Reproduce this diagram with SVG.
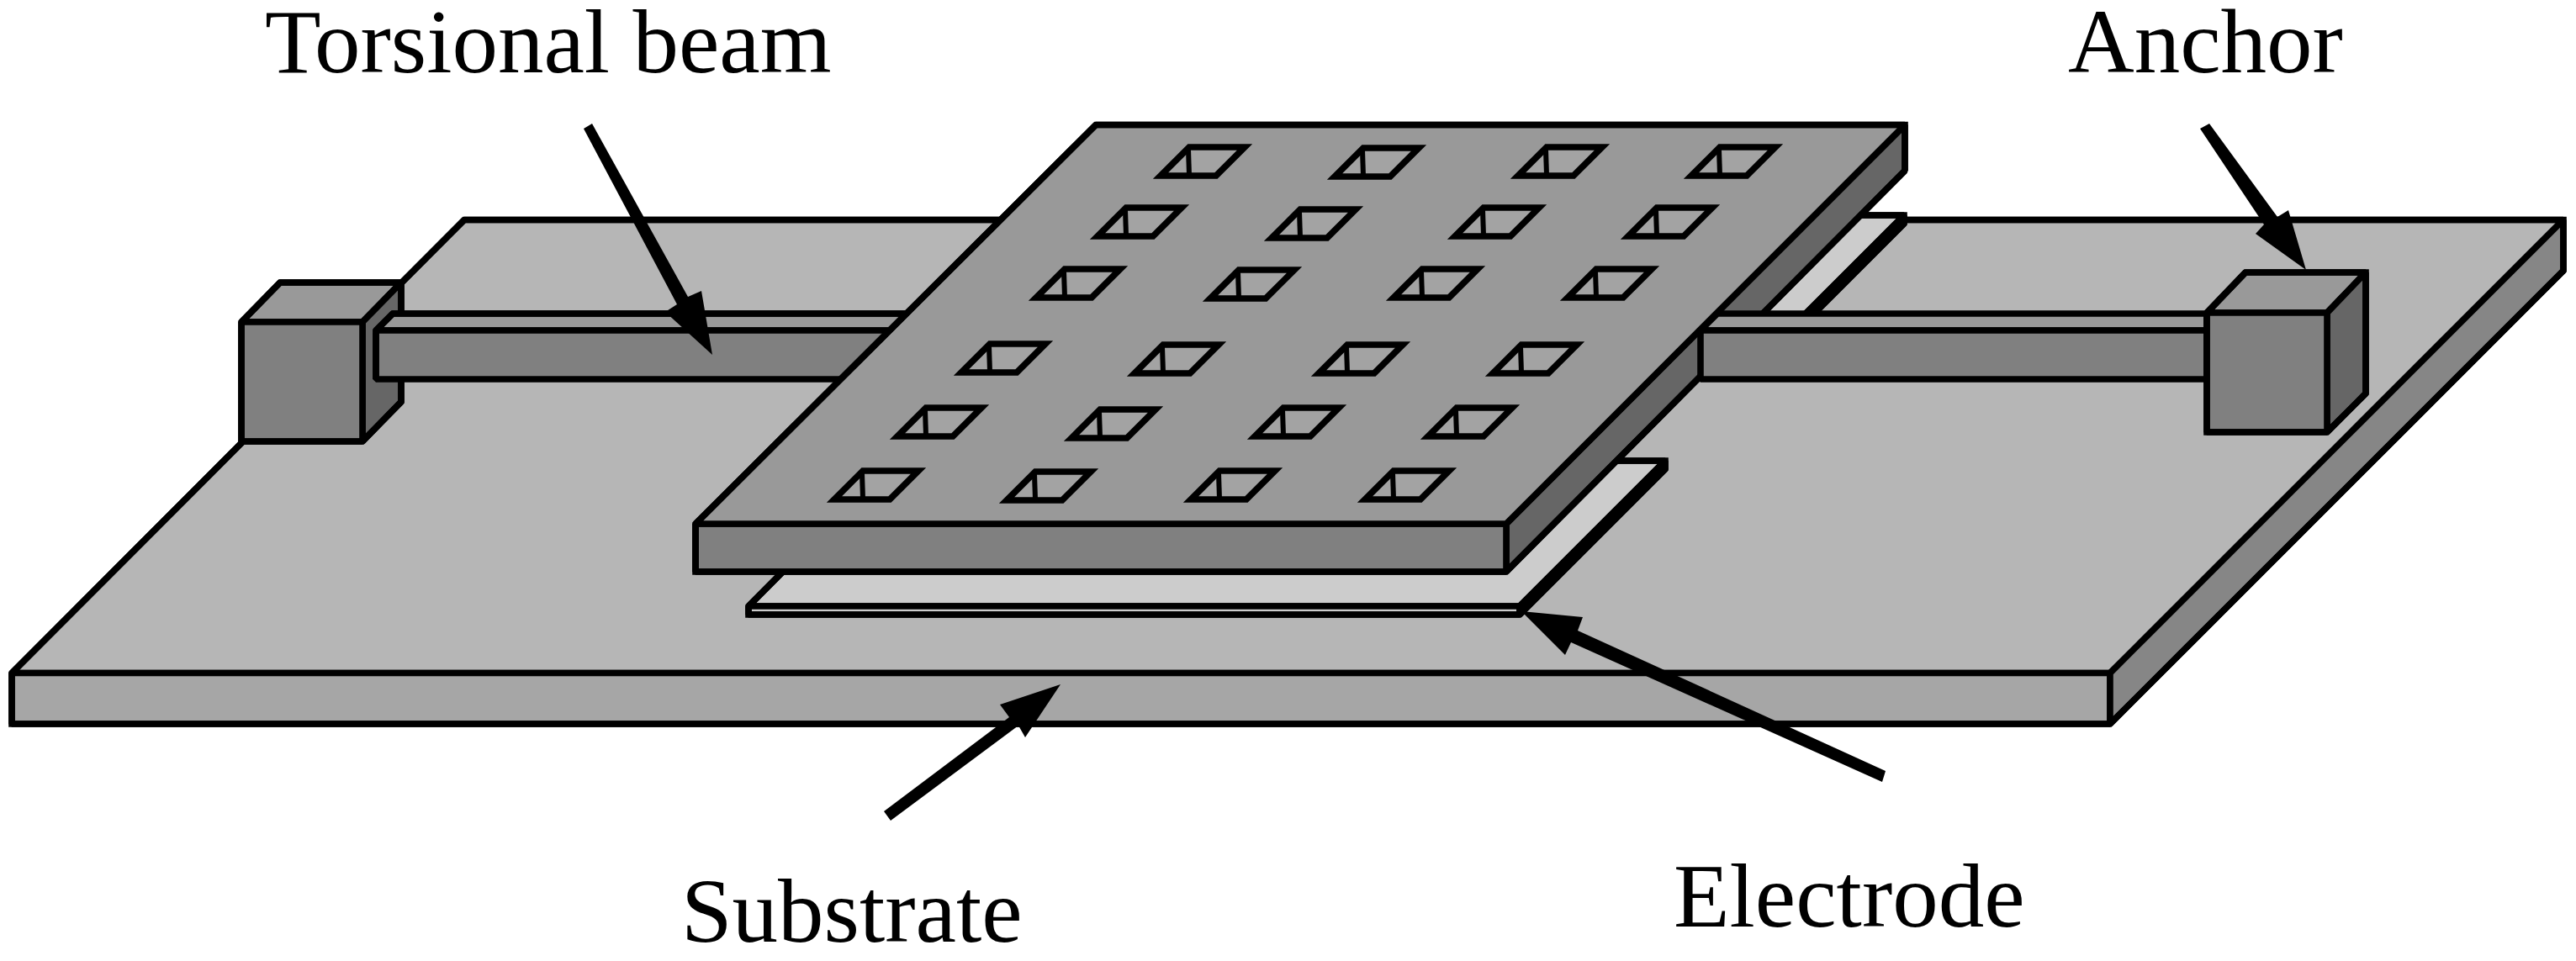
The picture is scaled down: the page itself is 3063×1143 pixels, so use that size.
<svg xmlns="http://www.w3.org/2000/svg" xmlns:xlink="http://www.w3.org/1999/xlink" width="3063" height="1143" viewBox="0 0 3063 1143">
<style>
.e{stroke:#000;stroke-width:7.6;stroke-linejoin:bevel}
.o{fill:none;stroke:#000;stroke-width:7.6;stroke-linejoin:miter}
.top{fill:#999}.front{fill:#808080}.side{fill:#666}
.hole{fill:#a3a3a3;stroke:#000;stroke-width:7.6}
.rib{fill:none;stroke:#000;stroke-width:6}
.el{fill:#ccc}
.lbl{font-family:"Liberation Serif","Times New Roman",serif;font-size:109px;fill:#000}
.arrow{fill:#000}
</style>
<defs>
<g id="h"><path class="hole" d="M43,3H109L75,37H9Z"/><path class="rib" d="M42,6L43,36"/></g>
</defs>
<rect width="3063" height="1143" fill="#fff"/>
<g id="substrate">
<path class="e" fill="#b6b6b6" d="M14,800.500L552,261.500H3048L2509,800.500Z"/>
<path class="e" fill="#a6a6a6" d="M14,800.500H2509V861H14Z"/>
<path class="e" fill="#868686" d="M2509,800.500L3048,261.500V322L2509,861Z"/>
<path class="o" d="M14,861V800.500L552,261.500H3048V322L2509,861Z"/>
</g>
<g id="electrode-back">
<path class="e el" d="M1900,430L2074,256H2264L2090,430Z"/>
<path class="e" fill="#000" d="M2264,256V266L2090,440V430Z"/>
<path class="o" d="M2074,256H2264V266L2090,440"/>
</g>
<g id="electrode-front">
<path class="e el" d="M890,721L1062,548H1980L1807,721Z"/>
<path class="e el" d="M890,721H1807V731H890Z"/>
<path class="e" fill="#000" d="M1807,721L1980,548V558L1807,731Z"/>
<path class="o" d="M890,731V721L1062,548H1980V558L1807,731Z"/>
</g>
<g id="anchor-left">
<path class="e top" d="M287,383L333,336H477L431,383Z"/>
<path class="e side" d="M431,383L477,336V478L431,525Z"/>
<path class="e front" d="M287,383H431V525H287Z"/>
<path class="o" d="M287,525V383L333,336H477V478L431,525Z"/>
</g>
<g id="beam-left">
<path class="e top" d="M447,393L467,373H1120V393Z"/>
<path class="e front" d="M447,393H1120V451H447Z"/>
<path class="o" d="M447,451V393L467,373H1120"/>
</g>
<g id="plate">
<path class="e side" d="M1791,623L2265,148.500V203L1791,680Z"/>
<path class="e front" d="M827,623H1791V680H827Z"/>
<path class="o" d="M827,623V680H1791L2265,203"/>
</g>
<g id="beam-right">
<path class="e top" d="M2022,393L2042,373H2624V393Z"/>
<path class="e front" d="M2022,393H2624V451H2022Z"/>
</g>
<g id="anchor-right">
<path class="e top" d="M2624,372L2670,324H2813L2767,372Z"/>
<path class="e side" d="M2767,372L2813,324V468L2767,514Z"/>
<path class="e front" d="M2624,372H2767V514H2624Z"/>
<path class="o" d="M2624,514V372L2670,324H2813V468L2767,514Z"/>
</g>
<g id="plate-top">
<path class="e top" d="M827,623L1303,148.500H2265L1791,623Z"/>
<path class="o" d="M827,680V623L1303,148.500H2265V203"/>
<use xlink:href="#h" href="#h" x="1371" y="172"/>
<use xlink:href="#h" href="#h" x="1578" y="173"/>
<use xlink:href="#h" href="#h" x="1796" y="172"/>
<use xlink:href="#h" href="#h" x="2002" y="172"/>
<use xlink:href="#h" href="#h" x="1296" y="244"/>
<use xlink:href="#h" href="#h" x="1503" y="246"/>
<use xlink:href="#h" href="#h" x="1721" y="244"/>
<use xlink:href="#h" href="#h" x="1927" y="244"/>
<use xlink:href="#h" href="#h" x="1223" y="317"/>
<use xlink:href="#h" href="#h" x="1430" y="318"/>
<use xlink:href="#h" href="#h" x="1648" y="317"/>
<use xlink:href="#h" href="#h" x="1855" y="317"/>
<use xlink:href="#h" href="#h" x="1134" y="406"/>
<use xlink:href="#h" href="#h" x="1340" y="407"/>
<use xlink:href="#h" href="#h" x="1559" y="407"/>
<use xlink:href="#h" href="#h" x="1766" y="407"/>
<use xlink:href="#h" href="#h" x="1058" y="482"/>
<use xlink:href="#h" href="#h" x="1265" y="484"/>
<use xlink:href="#h" href="#h" x="1483" y="482"/>
<use xlink:href="#h" href="#h" x="1689" y="482"/>
<use xlink:href="#h" href="#h" x="983" y="557"/>
<use xlink:href="#h" href="#h" x="1188" y="558"/>
<use xlink:href="#h" href="#h" x="1407" y="557"/>
<use xlink:href="#h" href="#h" x="1614" y="557"/>
</g>
<g id="connectors">
<polygon class="arrow" points="694,153 704,147 818,353 834,346 847,422 791,371 805,362"/>
<polygon class="arrow" points="2616,153 2627,147 2708,258 2721,250 2742,321 2682,278 2692,267"/>
<polygon class="arrow" points="1051,965 1059,976 1211,863 1219,877 1261,814 1189,838 1200,853"/>
<polygon class="arrow" points="2242,917 2238,930 1868,764 1861,779 1809,727 1882,734 1876,750"/>
</g>
<g id="labels">
<text class="lbl" x="315" y="86">Torsional beam</text>
<text class="lbl" x="2459" y="86">Anchor</text>
<text class="lbl" x="810" y="1120">Substrate</text>
<text class="lbl" x="1990" y="1102">Electrode</text>
</g>
</svg>
